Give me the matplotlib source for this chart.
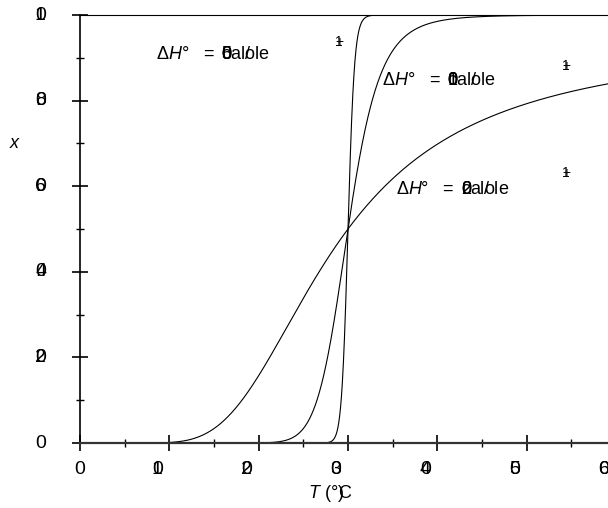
import numpy as np
import matplotlib.pyplot as plt
from matplotlib.ticker import MultipleLocator
from matplotlib.transforms import offset_copy

plt.rcParams['font.family'] = ['Liberation Sans', 'DejaVu Sans']

# two-state melting, x = fraction melted
R = 1.987          # cal / (mole K)
t_melt = 30.0
dh_values = [200, 1000, 5000]                       # cal/mole
dh_label_pos = [(35.4, 0.593), (33.9, 0.848), (8.6, 0.907)]
x_ticks = [0, 10, 20, 30, 40, 50, 60]
x_tick_labels = ['0', '10', '20', '30', '40', '50', '60']
y_ticks = [0, 0.2, 0.4, 0.6, 0.8, 1.0]
y_tick_labels = ['0', '0.2', '0.4', '0.6', '0.8', '1.0']
plus_marks = [(29.0, 0.937), (54.4, 0.881), (54.4, 0.631)]

FS = 13

# glyph advances in em (Arial metrics)
ADV = {'\u0394': 0.668, 'H': 0.722, '\u00b0': 0.4, ' ': 0.278, '=': 0.584,
       'c': 0.5, 'a': 0.556, 'l': 0.222, 'o': 0.556, 'e': 0.556,
       'T': 0.611, '(': 0.333, ')': 0.333, 'C': 0.722}


def fraction(T, dh):
    z = dh / R * (1.0 / t_melt - 1.0 / T)
    return 0.5 * (1.0 + np.tanh(z / 2.0))


def stacked_text(ax, x, y, s, base, size=FS, adv=None, dx0=0.0, dy=0.0,
                 italic='', space=0.278, **kw):
    """Draw s one glyph at a time; only glyphs in adv move the pen."""
    fig = ax.figure
    em = size * fig.dpi / 72
    dx = dx0
    for ch in s:
        tr = offset_copy(base, fig=fig, x=dx, y=dy, units='dots')
        ax.text(x, y, ch, transform=tr, fontsize=size, clip_on=False,
                style='italic' if ch in italic else 'normal', **kw)
        if adv is None or ch in adv:
            dx += (space if ch == ' ' else ADV.get(ch, 0.556)) * em
    return dx


fig = plt.figure(figsize=(6.08, 5.08), dpi=100)
ax = fig.add_axes([80 / 608, 65 / 508, 536 / 608, 428 / 508])

T = np.linspace(0.5, 60, 3000)
for dh in dh_values:
    ax.plot(T, fraction(T, dh), color='black', lw=0.8)

ax.set_xlim(0, 60)
ax.set_ylim(0, 1)
ax.xaxis.set_major_locator(MultipleLocator(10))
ax.xaxis.set_minor_locator(MultipleLocator(5))
ax.yaxis.set_major_locator(MultipleLocator(0.2))
ax.yaxis.set_minor_locator(MultipleLocator(0.1))
ax.tick_params(which='major', direction='inout', length=12, width=1.2,
               labelbottom=False, labelleft=False, top=False, right=False)
ax.tick_params(which='minor', direction='inout', length=6, width=1.0,
               top=False, right=False)
ax.spines['left'].set_linewidth(1.2)
ax.spines['bottom'].set_linewidth(1.6)
ax.spines['bottom'].set_color('#333333')
ax.spines['top'].set_linewidth(0.8)
ax.spines['right'].set_visible(False)

# tick labels, glyphs piled on one spot
for v, s in zip(x_ticks, x_tick_labels):
    stacked_text(ax, v, 0, s, ax.get_xaxis_transform(), size=14, adv='',
                 dx0=-12 * (len(s) - 1), dy=-26, ha='center', va='center')
for v, s in zip(y_ticks, y_tick_labels):
    stacked_text(ax, 0, v, s, ax.get_yaxis_transform(), size=14, adv='',
                 dx0=-45, ha='left', va='center')

# curve labels
for dh, (lx, ly) in zip(dh_values, dh_label_pos):
    d = stacked_text(ax, lx, ly, '\u0394H\u00b0 ', ax.transData,
                     italic='H', space=0.75, ha='left', va='center')
    d = stacked_text(ax, lx, ly, '= ', ax.transData, dx0=d,
                     space=0.4, ha='left', va='center')
    stacked_text(ax, lx, ly, f'{dh} cal/ole', ax.transData, adv='calole',
                 dx0=d + 1, ha='left', va='center')

for px, py in plus_marks:
    stacked_text(ax, px, py, '+1', ax.transData, size=10, adv='',
                 ha='center', va='center')

# axis titles
ax.text(-0.123, 0.70, 'x', transform=ax.get_yaxis_transform(), fontsize=FS,
        style='italic', ha='center', va='center')
stacked_text(ax, 25.6, -0.117, 'T (\u00b0C)', ax.get_xaxis_transform(),
             adv='T (\u00b0)', italic='T', ha='left', va='center')

fig.savefig('out.png', dpi=100)
